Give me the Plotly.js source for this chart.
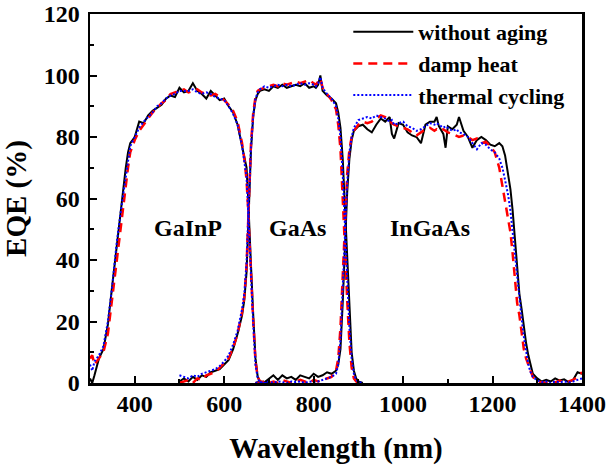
<!DOCTYPE html>
<html>
<head>
<meta charset="utf-8">
<script src="https://cdn.plot.ly/plotly-3.0.1.min.js"></script>
<style>html,body{margin:0;padding:0;background:#fff}#chart{width:606px;height:466px}</style>
</head>
<body>
<div id="chart"></div>
<script>
// ---- Data ----
// GaInP sub-cell segment
const wl1 = [300,305,310,315,320,330,340,350,360,370,375,380,385,390,400,410,420,430,440,450,460,470,480,490,500,510,520,530,540,550,560,570,580,590,600,610,620,630,640,645,650,653,656,660,665,670,675,680,690,700];
const black1 = [1.5,0,2.5,5,8,11,19,32,45,58,63,70,75,78,80,85,84.5,87,88.5,89.5,90.5,92.5,93.5,93,96,94.5,95,97.5,95,94,92.5,95,93.5,92,92.5,90,88,84,77,74,70,62,50,38,22,8,2,0.5,0.3,0];
const red1 = [8,9,6,7,8,10,16,28,42,54,60,64,70,75,79,82,84,86,88,89.5,91,92,94,94.5,95,95.5,94.5,95,95.5,94.5,94,93.5,94,93,92,90.5,88.5,85,78,73,66,58,48,36,20,7,2,0.5,0,0];
const blue1 = [6,4,7,8,9,12,20,32,46,57,62,68,73,77,80,83,85,86.5,88,90,91,92.5,93.5,94,95,95,95,95.5,94.5,94,94.5,94,93,92.5,92,90,87.5,84,77,72,67,58,47,35,19,6,1.5,0.3,0,0];

// GaAs sub-cell segment
const wl2 = [500,510,520,530,540,550,560,570,580,590,600,610,620,630,640,645,650,653,656,660,665,670,675,680,690,700,710,720,730,740,750,760,770,780,790,800,805,810,815,820,830,840,850,855,860,865,870,875,880,885,890,895,900,910];
const black2 = [0.5,1.5,0.5,2,1,2.5,2,3.5,4,4.5,6,7.5,11,16,22,27,36,48,62,76,87,92,94,95,95.5,95,96.5,96,97,96,96.5,97,96.5,97.5,96,96.5,96,97,100,95,93.5,92.5,91,88,83,73,57,40,22,10,4,1.5,0.5,0];
const red2 = [0,0.5,1,0,1.5,1,2.5,3,3.5,5,6.5,8,11.5,16,23,28,38,50,64,78,88,93,95,95.5,96,96.5,97,96.5,97.5,97,97.5,98,97.5,98,98.5,97.5,97,98,99,96,94,92,89,84,76,62,44,27,13,5,1.5,0.5,0,0];
const blue2 = [2.5,2,1.5,2.5,2,3,3.5,4,4.5,5.5,7,9,12.5,17,24,29,39,51,64,77,87,92.5,94.5,95.5,96.5,96,96.5,97,96.5,97,96.5,97,97.5,97,97.5,97,96.5,97.5,99.5,96,94,92.5,90,86,80,68,52,35,18,8,3,1,0.3,0];

// InGaAs sub-cell segment
const wl3 = [670,680,690,700,710,720,730,740,750,760,770,780,790,800,810,820,830,840,850,855,860,865,870,875,880,885,890,900,910,920,930,940,950,960,970,975,980,990,1000,1010,1020,1030,1040,1050,1060,1070,1075,1080,1090,1095,1100,1110,1120,1125,1135,1145,1155,1165,1175,1185,1195,1205,1215,1222,1228,1235,1240,1245,1250,1255,1260,1265,1270,1275,1280,1285,1290,1300,1310,1320,1330,1340,1350,1360,1370,1380,1390,1400];
const black3 = [0,0.5,0.2,1.5,2.5,1,2.5,1.5,2,1,2.5,2,1.5,3,2,2.5,3.5,3,4,6,11,26,46,62,73,79,82,83.5,84,82.5,81.5,84,86,85,86.5,81,79.5,84.5,84,81.5,80.5,80,78,84,85,85,86.5,83.5,81,76.5,83.5,82.5,84,86.5,82,80,76.5,79,80,79,77.5,77,78,77,74,68,63,56,46,36,29,24,18,13,9,6,3,1.5,0.5,1,0.5,1.5,0.8,1.2,0.3,1,3.5,3];
const red3 = [0,0,0.5,0,0.5,0,1,0.5,0,0.5,1,0.5,0,1,0.5,1,1.5,2,4,8,18,36,55,68,76,80,82,84,85,84.5,85,86,87,86.5,85,84.5,84,83.5,83,82.5,81.5,80.5,81.5,82.5,83,82,82.5,82,82.5,82,81.5,81,80.5,80,80.5,80,79,79.5,78,78.5,77,75,70,64,60,54,49,42,33,26,22,16,11,8,6,3.5,2,0.5,0.3,0,0.5,0.2,0.8,0.3,0.5,1,2,3.5];
const blue3 = [0,0.3,0,0.5,0,0.5,0.3,0,0.5,0.3,0.5,0,0.5,0.3,0.5,1,1.5,2,3,6,14,31,50,65,75,80,83,85.5,86,86.5,86,87,86.5,86,85,85.5,84,84.5,85,83.5,83,82,82.5,83.5,84.5,84,84.5,84,83,83.5,83,82,82.5,81.5,81,80,78,76,78,77.5,76,75,73,70,66,61,56,49,41,33,27,21,15,10,6,3.5,2,0.8,0.3,0.5,0,0.5,0.3,0.5,0.2,0.5,1,1.5];

const seriesNames = ['without aging', 'damp heat', 'thermal cycling'];
const cellLabels = ['GaInP', 'GaAs', 'InGaAs'];
const cellLabelX = [519, 763, 1060];
const cellLabelY = [50.5, 50.5, 50.5];

// ---- Build traces: one trace per series, segments separated by null ----
function joinSegs(xsList, ysList) {
  const x = [], y = [];
  xsList.forEach((xs, i) => {
    if (i > 0) { x.push(null); y.push(null); }
    xs.forEach((v, j) => { x.push(v); y.push(ysList[i][j]); });
  });
  return {x, y};
}
const wls = [wl1, wl2, wl3];
const seriesData = [[black1, black2, black3], [red1, red2, red3], [blue1, blue2, blue3]];
const styles = [
  {color: '#000000', width: 2, dash: 'solid'},
  {color: '#ff0000', width: 2.5, dash: '9px,6px'},
  {color: '#0000ff', width: 2, dash: '2px,2px'}
];
const traces = seriesData.map((segs, i) => {
  const d = joinSegs(wls, segs);
  return {x: d.x, y: d.y, type: 'scatter', mode: 'lines', name: seriesNames[i],
          line: styles[i], connectgaps: false};
});

const FONT = 'Liberation Serif';
const layout = {
  width: 606, height: 466,
  margin: {l: 90, r: 24, t: 14, b: 83, autoexpand: false},
  paper_bgcolor: '#ffffff', plot_bgcolor: '#ffffff',
  font: {family: FONT, color: '#000', weight: 'bold'},
  showlegend: true,
  legend: {x: 0.525, xanchor: 'left', y: 1.008, yanchor: 'top', bgcolor: 'rgba(0,0,0,0)',
           font: {family: FONT, size: 22, weight: 'bold', color: '#000'}, itemwidth: 60,
           tracegroupgap: 0},
  xaxis: {range: [300, 1400], tick0: 0, dtick: 200, ticks: 'inside', ticklen: 7, tickwidth: 2,
          tickcolor: '#000', showline: true, linewidth: 2.5, linecolor: '#000', mirror: true,
          showgrid: false, zeroline: false, ticklabelstandoff: -2, automargin: false,
          tickfont: {family: FONT, size: 24, weight: 'bold', color: '#000'},
          minor: {dtick: 100, ticks: 'inside', ticklen: 4, tickwidth: 2, tickcolor: '#000', showgrid: false},
          title: {text: 'Wavelength (nm)', standoff: 22, font: {family: FONT, size: 29, weight: 'bold', color: '#000'}}},
  yaxis: {range: [0, 120], tick0: 0, dtick: 20, ticks: 'inside', ticklen: 7, tickwidth: 2,
          tickcolor: '#000', showline: true, linewidth: 2.5, linecolor: '#000', mirror: true,
          showgrid: false, zeroline: false, ticklabelstandoff: 3, automargin: false,
          tickfont: {family: FONT, size: 24, weight: 'bold', color: '#000'},
          minor: {dtick: 10, ticks: 'inside', ticklen: 4, tickwidth: 2, tickcolor: '#000', showgrid: false},
          title: {text: 'EQE (%)', standoff: 13, font: {family: FONT, size: 29, weight: 'bold', color: '#000'}}},
  annotations: cellLabels.map((t, i) => ({x: cellLabelX[i], y: cellLabelY[i], xref: 'x', yref: 'y',
          text: t, showarrow: false, font: {family: FONT, size: 24, weight: 'bold', color: '#000'}}))
};
Plotly.newPlot('chart', traces, layout, {displayModeBar: false, staticPlot: true});
</script>
</body>
</html>
